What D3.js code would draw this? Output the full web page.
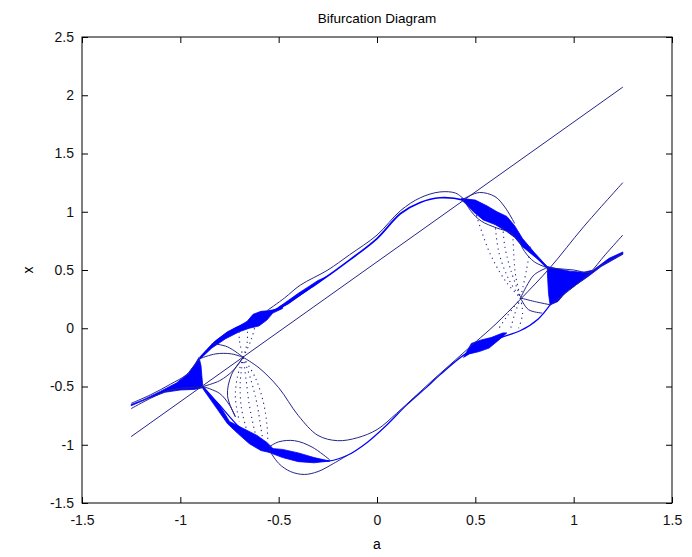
<!DOCTYPE html>
<html>
<head>
<meta charset="utf-8">
<script src="https://cdn.jsdelivr.net/npm/d3@7"></script>
<style>
  body { margin: 0; background: #fff; }
  text { font-family: "Liberation Sans", Arial, sans-serif; }
</style>
</head>
<body>
<div id="chart"></div>
<script>
// axis ticks
var xTicks = [-1.5, -1, -0.5, 0, 0.5, 1, 1.5];
var yTicks = [-1.5, -1, -0.5, 0, 0.5, 1, 1.5, 2, 2.5];

// straight line through the plot
var lineL1 = [[-1.25, -0.93], [1.25, 2.07]];

// period-1 branches (blue bands)
var upperBranch = [[-0.9, -0.26], [-0.81, -0.1], [-0.72, 0.0], [-0.65, 0.05], [-0.58, 0.12], [-0.5, 0.17],
    [-0.45, 0.22], [-0.39, 0.29], [-0.3, 0.39], [-0.14, 0.585], [0, 0.77], [0.12, 0.985], [0.22, 1.08],
    [0.32, 1.12], [0.44, 1.1], [0.52, 1.04], [0.6, 0.96], [0.68, 0.86], [0.74, 0.74], [0.8, 0.63], [0.865, 0.52]];
var lowerBranch = [[-0.885, -0.5], [-0.8, -0.66], [-0.7, -0.85], [-0.6, -0.98], [-0.55, -1.03], [-0.45, -1.08],
    [-0.35, -1.12], [-0.25, -1.14], [-0.15, -1.09], [-0.05, -0.98], [0.05, -0.83], [0.15, -0.66], [0.25, -0.51],
    [0.32, -0.4], [0.45, -0.22], [0.55, -0.14], [0.63, -0.08], [0.73, -0.02], [0.82, 0.08], [0.88, 0.2]];

// thin navy curves
var curveInner = [[-0.68, -0.25], [-0.6, -0.34], [-0.5, -0.51], [-0.4, -0.75], [-0.3, -0.92], [-0.2, -0.965],
    [-0.1, -0.94], [0, -0.87], [0.1, -0.73], [0.2, -0.575], [0.3, -0.42], [0.4, -0.27], [0.5, -0.12],
    [0.6, 0.03], [0.73, 0.25], [0.88, 0.52], [1.05, 0.87], [1.25, 1.25]];
var upperArc = [[-0.56, 0.15], [-0.47, 0.26], [-0.39, 0.37], [-0.25, 0.5], [-0.14, 0.63], [0, 0.8],
    [0.12, 1.01], [0.22, 1.12], [0.32, 1.17], [0.4, 1.16], [0.44, 1.11]];
var lowerLoop = [[-0.55, -1.04], [-0.5, -1.16], [-0.44, -1.23], [-0.37, -1.255], [-0.3, -1.23], [-0.22, -1.16], [-0.15, -1.09]];
var lowerArc = [[-0.55, -1.02], [-0.5, -0.975], [-0.42, -0.965], [-0.33, -1.02], [-0.24, -1.13]];
var upperRightTop = [[0.44, 1.11], [0.52, 1.165], [0.6, 1.13], [0.65, 1.04], [0.7, 0.9]];
var upperRightBelow = [[0.45, 1.08], [0.48, 1.0], [0.53, 0.92], [0.61, 0.86], [0.68, 0.82], [0.73, 0.74]];
var leftTail = [[-1.25, -0.645], [-1.15, -0.57], [-1.05, -0.48], [-0.97, -0.4], [-0.93, -0.32], [-0.9, -0.26]];
var leftLine = [[-1.25, -0.69], [-1.15, -0.6], [-1.05, -0.53], [-0.96, -0.51], [-0.885, -0.505]];
var rightTail = [[1.25, 0.64], [1.15, 0.55], [1.08, 0.48], [1.0, 0.5], [0.93, 0.51], [0.865, 0.52]];
var rightLine = [[1.25, 0.8], [1.16, 0.63], [1.08, 0.47], [1.01, 0.37], [0.95, 0.29], [0.88, 0.2]];
var cuspLeft = [
    [[-0.9, -0.26], [-0.82, -0.22], [-0.74, -0.22], [-0.68, -0.25]],
    [[-0.885, -0.5], [-0.8, -0.45], [-0.73, -0.36], [-0.68, -0.25]],
    [[-0.885, -0.5], [-0.8, -0.56], [-0.75, -0.66], [-0.72, -0.76]],
    [[-0.84, -0.13], [-0.76, -0.16], [-0.68, -0.25]],
    [[-0.68, -0.25], [-0.74, -0.4], [-0.76, -0.58], [-0.72, -0.76]]
];
var cuspRight = [
    [[0.73, 0.26], [0.8, 0.23], [0.885, 0.2]],
    [[0.865, 0.52], [0.8, 0.46], [0.76, 0.36], [0.73, 0.26]],
    [[0.865, 0.52], [0.8, 0.57], [0.75, 0.66], [0.72, 0.76]],
    [[0.84, 0.13], [0.77, 0.16], [0.73, 0.26]]
];

// chaotic regions (filled outlines)
var leftFan = [[-1.25, -0.655], [-1.19, -0.615], [-1.1, -0.54], [-1.02, -0.47], [-0.96, -0.39], [-0.93, -0.32],
    [-0.905, -0.25], [-0.895, -0.32], [-0.89, -0.42], [-0.885, -0.51], [-0.93, -0.525], [-1.0, -0.53],
    [-1.08, -0.55], [-1.16, -0.6], [-1.25, -0.665]];
var upperBlob = [[-0.9, -0.245], [-0.83, -0.12], [-0.76, -0.03], [-0.7, 0.02], [-0.66, 0.06], [-0.63, 0.12],
    [-0.59, 0.145], [-0.555, 0.15], [-0.52, 0.16], [-0.48, 0.2], [-0.48, 0.17], [-0.53, 0.13], [-0.56, 0.07],
    [-0.6, 0.02], [-0.65, 0.0], [-0.7, -0.03], [-0.77, -0.09], [-0.84, -0.17], [-0.9, -0.265]];
var upperLens = [[-0.5, 0.18], [-0.45, 0.24], [-0.4, 0.3], [-0.35, 0.355], [-0.3, 0.41], [-0.26, 0.44],
    [-0.3, 0.39], [-0.35, 0.33], [-0.4, 0.27], [-0.45, 0.21], [-0.5, 0.165]];
var upperRightChaos = [[0.43, 1.115], [0.5, 1.1], [0.56, 1.05], [0.61, 1.0], [0.66, 0.96], [0.7, 0.88],
    [0.74, 0.77], [0.8, 0.65], [0.865, 0.53], [0.79, 0.63], [0.74, 0.7], [0.7, 0.78], [0.66, 0.83],
    [0.6, 0.89], [0.54, 0.93], [0.49, 1.0], [0.45, 1.07], [0.43, 1.1]];
var rightFan = [[1.25, 0.655], [1.18, 0.6], [1.1, 0.5], [1.05, 0.48], [0.98, 0.49], [0.92, 0.51], [0.865, 0.53],
    [0.868, 0.42], [0.872, 0.3], [0.88, 0.2], [0.92, 0.23], [0.96, 0.31], [1.01, 0.37], [1.07, 0.44],
    [1.14, 0.53], [1.25, 0.635]];
var lowerRightLens = [[0.44, -0.25], [0.48, -0.13], [0.53, -0.1], [0.58, -0.08], [0.64, -0.04], [0.66, -0.04],
    [0.62, -0.1], [0.57, -0.17], [0.52, -0.2], [0.47, -0.22]];
var lowerLeftChaos = [[-0.885, -0.505], [-0.8, -0.66], [-0.75, -0.8], [-0.68, -0.86], [-0.61, -0.92],
    [-0.56, -0.98], [-0.53, -1.03], [-0.55, -1.065], [-0.59, -1.05], [-0.65, -0.99], [-0.71, -0.9],
    [-0.76, -0.82], [-0.81, -0.7], [-0.885, -0.52]];
var lowerLens = [[-0.55, -1.03], [-0.48, -1.04], [-0.4, -1.07], [-0.32, -1.11], [-0.24, -1.14],
    [-0.32, -1.155], [-0.4, -1.145], [-0.48, -1.11], [-0.55, -1.065]];

// sparse dotted orbits near the cusps
var dotsLeft = [
    [[-0.68, -0.25], [-0.695, -0.45], [-0.69, -0.68], [-0.665, -0.86]],
    [[-0.68, -0.25], [-0.665, -0.45], [-0.65, -0.65], [-0.625, -0.86], [-0.61, -0.96]],
    [[-0.68, -0.25], [-0.64, -0.45], [-0.61, -0.65], [-0.59, -0.86], [-0.58, -0.96]],
    [[-0.68, -0.25], [-0.62, -0.42], [-0.58, -0.62], [-0.56, -0.82], [-0.555, -0.98]],
    [[-0.68, -0.25], [-0.71, -0.42], [-0.72, -0.6], [-0.7, -0.8]],
    [[-0.68, -0.25], [-0.7, -0.1], [-0.7, 0.0]],
    [[-0.68, -0.25], [-0.64, -0.1], [-0.62, 0.02]],
    [[-0.68, -0.25], [-0.66, -0.12], [-0.66, 0.03]]
];
var dotsRight = [
    [[0.49, 1.05], [0.575, 0.64], [0.66, 0.39], [0.73, 0.26]],
    [[0.64, 0.87], [0.65, 0.7], [0.68, 0.5], [0.73, 0.26]],
    [[0.69, 0.85], [0.695, 0.65], [0.705, 0.45], [0.73, 0.26]],
    [[0.6, 0.9], [0.62, 0.65], [0.67, 0.42], [0.73, 0.26]],
    [[0.78, 0.7], [0.76, 0.5], [0.73, 0.26]],
    [[0.73, 0.26], [0.7, 0.12], [0.68, 0.0]],
    [[0.73, 0.26], [0.74, 0.12], [0.72, 0.0]],
    [[0.73, 0.26], [0.66, 0.1], [0.62, 0.0]]
];

var width = 692, height = 557;
var padL = 82, padR = 672, padT = 37, padB = 503;
var navy = '#24248c';
var blue = '#0000ff';

var svg = d3.select('#chart').append('svg')
    .attr('width', width)
    .attr('height', height);

var x = d3.scaleLinear().domain([-1.5, 1.5]).range([padL, padR]);
var y = d3.scaleLinear().domain([-1.5, 2.5]).range([padB, padT]);

var smoothLine = d3.line()
    .x(function(d) { return x(d[0]); })
    .y(function(d) { return y(d[1]); })
    .curve(d3.curveCatmullRom.alpha(0.5));
var straightLine = d3.line()
    .x(function(d) { return x(d[0]); })
    .y(function(d) { return y(d[1]); });
var regionLine = d3.line()
    .x(function(d) { return x(d[0]); })
    .y(function(d) { return y(d[1]); })
    .curve(d3.curveLinearClosed);

var plot = svg.append('g');

// chaotic regions
[leftFan, upperBlob, upperLens, upperRightChaos, rightFan, lowerRightLens, lowerLeftChaos, lowerLens]
    .forEach(function(r) {
        plot.append('path').attr('d', regionLine(r))
            .attr('fill', blue).attr('stroke', blue).attr('stroke-width', 0.8);
    });

// branches
plot.append('path').attr('d', smoothLine(upperBranch))
    .attr('fill', 'none').attr('stroke', blue).attr('stroke-width', 1.7);
plot.append('path').attr('d', smoothLine(lowerBranch))
    .attr('fill', 'none').attr('stroke', blue).attr('stroke-width', 1.2);

// thin curves
plot.append('path').attr('d', straightLine(lineL1))
    .attr('fill', 'none').attr('stroke', navy).attr('stroke-width', 1);
[curveInner, upperArc, lowerLoop, lowerArc, upperRightTop, upperRightBelow, leftTail, leftLine, rightTail, rightLine]
    .concat(cuspLeft, cuspRight)
    .forEach(function(c) {
        plot.append('path').attr('d', smoothLine(c))
            .attr('fill', 'none').attr('stroke', navy).attr('stroke-width', 1);
    });

// dotted orbits
dotsLeft.concat(dotsRight).forEach(function(c) {
    plot.append('path').attr('d', smoothLine(c))
        .attr('fill', 'none').attr('stroke', navy).attr('stroke-width', 1.1)
        .attr('stroke-dasharray', '1.2,3.8');
});

// axes box and inward ticks
var fmt = function(d) { return String(d); };
svg.append('g').attr('transform', 'translate(0,' + padB + ')')
    .call(d3.axisBottom(x).tickValues(xTicks).tickFormat(fmt).tickSizeInner(-6).tickSizeOuter(0).tickPadding(12));
svg.append('g').attr('transform', 'translate(0,' + padT + ')')
    .call(d3.axisTop(x).tickValues(xTicks).tickFormat('').tickSizeInner(-6).tickSizeOuter(0));
svg.append('g').attr('transform', 'translate(' + padL + ',0)')
    .call(d3.axisLeft(y).tickValues(yTicks).tickFormat(fmt).tickSizeInner(-6).tickSizeOuter(0).tickPadding(8));
svg.append('g').attr('transform', 'translate(' + padR + ',0)')
    .call(d3.axisRight(y).tickValues(yTicks).tickFormat('').tickSizeInner(-6).tickSizeOuter(0));

svg.selectAll('.domain').remove();
svg.selectAll('.tick line').attr('stroke', '#000');
svg.selectAll('.tick text').attr('fill', '#111').style('font-size', '14px')
    .style('font-family', '"Liberation Sans", Arial, sans-serif');

svg.append('rect')
    .attr('x', padL).attr('y', padT)
    .attr('width', padR - padL).attr('height', padB - padT)
    .attr('fill', 'none').attr('stroke', '#000').attr('stroke-width', 1);

svg.append('text')
    .attr('x', (padL + padR) / 2).attr('y', 23)
    .attr('text-anchor', 'middle').style('font-size', '13.5px')
    .text('Bifurcation Diagram');
svg.append('text')
    .attr('x', (padL + padR) / 2).attr('y', 549)
    .attr('text-anchor', 'middle').style('font-size', '14px')
    .text('a');
svg.append('text')
    .attr('transform', 'translate(33,' + ((padT + padB) / 2) + ') rotate(-90)')
    .attr('text-anchor', 'middle').style('font-size', '14px')
    .text('x');
</script>
</body>
</html>
